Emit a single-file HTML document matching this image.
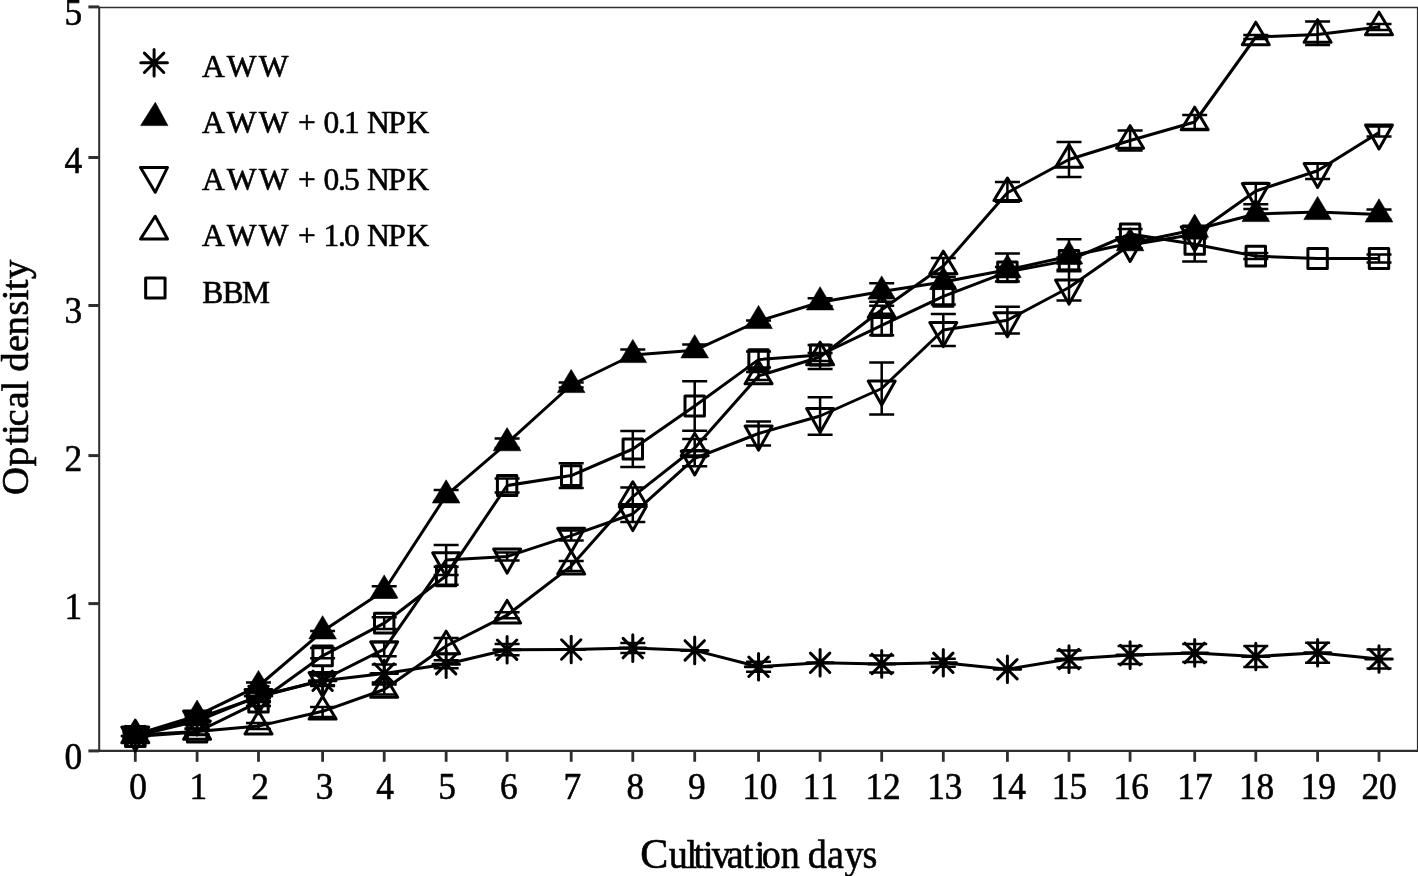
<!DOCTYPE html>
<html><head><meta charset="utf-8"><title>Optical density vs cultivation days</title>
<style>
html,body{margin:0;padding:0;background:#fff;}
body{width:1418px;height:876px;overflow:hidden;}
svg{display:block;font-family:"Liberation Serif",serif;filter:grayscale(1);}
.ax{stroke:#2e2e2e;fill:none;}
.l{stroke:#000;stroke-width:3;fill:none;stroke-linejoin:round;}
.e{stroke:#000;stroke-width:2.5;fill:none;}
.a{stroke:#000;stroke-width:3;fill:none;stroke-linecap:round;}
.o{stroke:#000;stroke-width:3;fill:none;stroke-linejoin:round;}
.f{stroke:#000;stroke-width:0.6;fill:#000;stroke-linejoin:miter;}
text{fill:#000;stroke:#000;stroke-width:0.6px;stroke-linejoin:round;font-kerning:none;}
.t{font-size:38px;stroke-width:0.5px;}
.lg{font-size:31.5px;}
</style></head><body>
<svg width="1418" height="876" viewBox="0 0 1418 876">
<rect width="1418" height="876" fill="#fff"/>

<g class="ax">
<path d="M99.2 6.5V751.9" stroke-width="2"/>
<path d="M98 750.9H1418" stroke-width="2.2"/>
<path d="M98 7.5H1418" stroke-width="1.5"/>
<path d="M1417.9 7V752" stroke-width="2"/>
<path d="M88.4 750.9H99" stroke-width="3"/>
<path d="M88.4 603.6H99" stroke-width="3"/>
<path d="M88.4 455.6H99" stroke-width="3"/>
<path d="M88.4 305.5H99" stroke-width="3"/>
<path d="M88.4 157.5H99" stroke-width="3"/>
<path d="M88.4 6.9H99" stroke-width="3"/>
<path d="M135.3 750.9V761.8" stroke-width="2.8"/>
<path d="M197.1 750.9V761.8" stroke-width="2.8"/>
<path d="M258.5 750.9V761.8" stroke-width="2.8"/>
<path d="M322.6 750.9V761.8" stroke-width="2.8"/>
<path d="M384.2 750.9V761.8" stroke-width="2.8"/>
<path d="M446.15 750.9V761.8" stroke-width="2.8"/>
<path d="M507.1 750.9V761.8" stroke-width="2.8"/>
<path d="M571.2 750.9V761.8" stroke-width="2.8"/>
<path d="M632.8 750.9V761.8" stroke-width="2.8"/>
<path d="M694.7 750.9V761.8" stroke-width="2.8"/>
<path d="M758.55 750.9V761.8" stroke-width="2.8"/>
<path d="M820.1 750.9V761.8" stroke-width="2.8"/>
<path d="M881.7 750.9V761.8" stroke-width="2.8"/>
<path d="M943.3 750.9V761.8" stroke-width="2.8"/>
<path d="M1007.4 750.9V761.8" stroke-width="2.8"/>
<path d="M1069 750.9V761.8" stroke-width="2.8"/>
<path d="M1130.1 750.9V761.8" stroke-width="2.8"/>
<path d="M1194.7 750.9V761.8" stroke-width="2.8"/>
<path d="M1255.8 750.9V761.8" stroke-width="2.8"/>
<path d="M1317.6 750.9V761.8" stroke-width="2.8"/>
<path d="M1379 750.9V761.8" stroke-width="2.8"/>
</g>
<g class="t" text-anchor="middle">
<text transform="translate(138.1 798.5) scale(0.93 1)">0</text>
<text transform="translate(198.4 798.5) scale(0.93 1)">1</text>
<text transform="translate(260.1 798.5) scale(0.93 1)">2</text>
<text transform="translate(324.5 798.5) scale(0.93 1)">3</text>
<text transform="translate(385 798.5) scale(0.93 1)">4</text>
<text transform="translate(447.05 798.5) scale(0.93 1)">5</text>
<text transform="translate(508.8 798.5) scale(0.93 1)">6</text>
<text transform="translate(572.3 798.5) scale(0.93 1)">7</text>
<text transform="translate(635.3 798.5) scale(0.93 1)">8</text>
<text transform="translate(696.8 798.5) scale(0.93 1)">9</text>
<text transform="translate(759.85 798.5) scale(0.93 1)">10</text>
<text transform="translate(820.4 798.5) scale(0.93 1)">11</text>
<text transform="translate(883.1 798.5) scale(0.93 1)">12</text>
<text transform="translate(944.8 798.5) scale(0.93 1)">13</text>
<text transform="translate(1008.2 798.5) scale(0.93 1)">14</text>
<text transform="translate(1069.4 798.5) scale(0.93 1)">15</text>
<text transform="translate(1131.2 798.5) scale(0.93 1)">16</text>
<text transform="translate(1194.9 798.5) scale(0.93 1)">17</text>
<text transform="translate(1256.6 798.5) scale(0.93 1)">18</text>
<text transform="translate(1318.3 798.5) scale(0.93 1)">19</text>
<text transform="translate(1379.1 798.5) scale(0.93 1)">20</text>
</g>
<g class="t" text-anchor="end">
<text transform="translate(82.2 769.1) scale(0.93 1)">0</text>
<text transform="translate(82.2 618.9) scale(0.93 1)">1</text>
<text transform="translate(82.2 470.7) scale(0.93 1)">2</text>
<text transform="translate(82.2 322.9) scale(0.93 1)">3</text>
<text transform="translate(82.2 172.6) scale(0.93 1)">4</text>
<text transform="translate(82.2 24.8) scale(0.93 1)">5</text>
</g>
<text transform="translate(641.5 867.9) scale(1.0 1)" font-size="42" stroke-width="0.9" x="-1.27">C</text>
<text transform="translate(668.7 867.7) scale(0.93 1)" font-size="41" stroke-width="0.9" x="-0.06 19.23 26.54 36.93 46.18 62.48 79.76 92.42 100.11 120.51 149.54 170.12 188.91 208.48">ultivationdays</text>
<text transform="translate(28.2 493.9) rotate(-90) scale(1.0 1)" font-size="38.7" stroke-width="0.8" x="-1.19 27.68 48.82 58.99 67.53 85.34 102.33 122.1 141.79 158.51 178.51 193.69 203.72 214.83">Opticaldensity</text>
<path d="M154.1 49.5V76.1M140.8 62.8H167.4M144.4 53.1L163.8 72.5M144.4 72.5L163.8 53.1" class="a"/>
<path d="M140.6 125.6L167.9 125.6L155.3 102.3Z" class="f"/>
<path d="M140.5 167.4L167.5 167.4L155.2 192.3Z" class="o"/>
<path d="M140.5 239.05L167.5 239.05L155.2 216.3Z" class="o"/>
<rect x="145.65" y="278" width="19.4" height="20" class="o"/>
<text class="lg" y="76.8" x="202 226.85 258.7">AWW</text>
<text class="lg" y="133.3" x="202 226.85 258.7 297.9 323.5 338 344 367 388.3 406.5">AWW+0.1NPK</text>
<text class="lg" y="189.8" x="202 226.85 258.7 297.9 323.5 338 344 367 388.3 406.5">AWW+0.5NPK</text>
<text class="lg" y="246.3" x="202 226.85 258.7 297.9 323.5 338 344 367 388.3 406.5">AWW+1.0NPK</text>
<text class="lg" y="302.8" x="202.3 222.6 242">BBM</text>
<g>
<polyline class="l" points="135.3,736 197.1,721 258.5,696 322.6,680.8 384.2,673.5 446.15,664.2 507.1,649.7 571.2,649.5 632.8,648.1 694.7,650.4 758.55,666.8 820.1,662.8 881.7,663.9 943.3,662.8 1007.4,669.2 1069,659.1 1130.1,655.1 1194.7,652.9 1255.8,656.5 1317.6,652.7 1379,659"/>
<path class="e" d="M135.3 733V739M122.8 733H147.8M122.8 739H147.8M197.1 717V725M184.6 717H209.6M184.6 725H209.6M258.5 691V701M246 691H271M246 701H271M322.6 675.5V686.1M310.1 675.5H335.1M310.1 686.1H335.1M384.2 664.5V682.5M371.7 664.5H396.7M371.7 682.5H396.7M446.15 660.2V668.2M433.65 660.2H458.65M433.65 668.2H458.65M507.1 644.1V655.3M494.6 644.1H519.6M494.6 655.3H519.6M632.8 643.1V653.1M620.3 643.1H645.3M620.3 653.1H645.3M758.55 661.8V671.8M746.05 661.8H771.05M746.05 671.8H771.05M881.7 655.4V672.4M869.2 655.4H894.2M869.2 672.4H894.2M943.3 658.8V666.8M930.8 658.8H955.8M930.8 666.8H955.8M1069 650.6V667.6M1056.5 650.6H1081.5M1056.5 667.6H1081.5M1130.1 646.1V664.1M1117.6 646.1H1142.6M1117.6 664.1H1142.6M1194.7 643.9V661.9M1182.2 643.9H1207.2M1182.2 661.9H1207.2M1255.8 646V667M1243.3 646H1268.3M1243.3 667H1268.3M1317.6 642.7V662.7M1305.1 642.7H1330.1M1305.1 662.7H1330.1M1379 649.4V668.6M1366.5 649.4H1391.5M1366.5 668.6H1391.5"/>
<path d="M135.3 722.7V749.3M122 736H148.6M125.6 726.3L145 745.7M125.6 745.7L145 726.3" class="a"/>
<path d="M197.1 707.7V734.3M183.8 721H210.4M187.4 711.3L206.8 730.7M187.4 730.7L206.8 711.3" class="a"/>
<path d="M258.5 682.7V709.3M245.2 696H271.8M248.8 686.3L268.2 705.7M248.8 705.7L268.2 686.3" class="a"/>
<path d="M322.6 667.5V694.1M309.3 680.8H335.9M312.9 671.1L332.3 690.5M312.9 690.5L332.3 671.1" class="a"/>
<path d="M384.2 660.2V686.8M370.9 673.5H397.5M374.5 663.8L393.9 683.2M374.5 683.2L393.9 663.8" class="a"/>
<path d="M446.15 650.9V677.5M432.85 664.2H459.45M436.45 654.5L455.85 673.9M436.45 673.9L455.85 654.5" class="a"/>
<path d="M507.1 636.4V663M493.8 649.7H520.4M497.4 640L516.8 659.4M497.4 659.4L516.8 640" class="a"/>
<path d="M571.2 636.2V662.8M557.9 649.5H584.5M561.5 639.8L580.9 659.2M561.5 659.2L580.9 639.8" class="a"/>
<path d="M632.8 634.8V661.4M619.5 648.1H646.1M623.1 638.4L642.5 657.8M623.1 657.8L642.5 638.4" class="a"/>
<path d="M694.7 637.1V663.7M681.4 650.4H708M685 640.7L704.4 660.1M685 660.1L704.4 640.7" class="a"/>
<path d="M758.55 653.5V680.1M745.25 666.8H771.85M748.85 657.1L768.25 676.5M748.85 676.5L768.25 657.1" class="a"/>
<path d="M820.1 649.5V676.1M806.8 662.8H833.4M810.4 653.1L829.8 672.5M810.4 672.5L829.8 653.1" class="a"/>
<path d="M881.7 650.6V677.2M868.4 663.9H895M872 654.2L891.4 673.6M872 673.6L891.4 654.2" class="a"/>
<path d="M943.3 649.5V676.1M930 662.8H956.6M933.6 653.1L953 672.5M933.6 672.5L953 653.1" class="a"/>
<path d="M1007.4 655.9V682.5M994.1 669.2H1020.7M997.7 659.5L1017.1 678.9M997.7 678.9L1017.1 659.5" class="a"/>
<path d="M1069 645.8V672.4M1055.7 659.1H1082.3M1059.3 649.4L1078.7 668.8M1059.3 668.8L1078.7 649.4" class="a"/>
<path d="M1130.1 641.8V668.4M1116.8 655.1H1143.4M1120.4 645.4L1139.8 664.8M1120.4 664.8L1139.8 645.4" class="a"/>
<path d="M1194.7 639.6V666.2M1181.4 652.9H1208M1185 643.2L1204.4 662.6M1185 662.6L1204.4 643.2" class="a"/>
<path d="M1255.8 643.2V669.8M1242.5 656.5H1269.1M1246.1 646.8L1265.5 666.2M1246.1 666.2L1265.5 646.8" class="a"/>
<path d="M1317.6 639.4V666M1304.3 652.7H1330.9M1307.9 643L1327.3 662.4M1307.9 662.4L1327.3 643" class="a"/>
<path d="M1379 645.7V672.3M1365.7 659H1392.3M1369.3 649.3L1388.7 668.7M1369.3 668.7L1388.7 649.3" class="a"/>
</g>
<g>
<polyline class="l" points="135.3,734.8 197.1,715.7 258.5,686 322.6,631.3 384.2,590.5 446.15,495.4 507.1,443.2 571.2,385 632.8,355 694.7,350.3 758.55,321 820.1,302.3 881.7,291.5 943.3,282 1007.4,269.8 1069,256.3 1130.1,243.2 1194.7,229.7 1255.8,214 1317.6,212 1379,214.4"/>
<path class="e" d="M135.3 731.8V737.8M122.8 731.8H147.8M122.8 737.8H147.8M197.1 711.7V719.7M184.6 711.7H209.6M184.6 719.7H209.6M258.5 682.5V689.5M246 682.5H271M246 689.5H271M322.6 630.9V637.1M310.1 630.9H335.1M310.1 637.1H335.1M384.2 586.3V597.5M371.7 586.3H396.7M371.7 597.5H396.7M446.15 489.9V500.9M433.65 489.9H458.65M433.65 500.9H458.65M507.1 438.5V447.9M494.6 438.5H519.6M494.6 447.9H519.6M571.2 382.5V387.5M558.7 382.5H583.7M558.7 387.5H583.7M632.8 349.5V360.5M620.3 349.5H645.3M620.3 360.5H645.3M694.7 344.5V356.1M682.2 344.5H707.2M682.2 356.1H707.2M758.55 320.5V326M746.05 320.5H771.05M746.05 326H771.05M820.1 298.3V306.3M807.6 298.3H832.6M807.6 306.3H832.6M881.7 283.2V301.7M869.2 283.2H894.2M869.2 301.7H894.2M943.3 277V287M930.8 277H955.8M930.8 287H955.8M1007.4 253.5V281.5M994.9 253.5H1019.9M994.9 281.5H1019.9M1069 239.3V269.8M1056.5 239.3H1081.5M1056.5 269.8H1081.5M1130.1 238.2V248.2M1117.6 238.2H1142.6M1117.6 248.2H1142.6M1194.7 225.7V233.7M1182.2 225.7H1207.2M1182.2 233.7H1207.2M1255.8 209V219M1243.3 209H1268.3M1243.3 219H1268.3M1379 209.4V219.4M1366.5 209.4H1391.5M1366.5 219.4H1391.5"/>
<path d="M135.3 719.2L149.1 742.4L121.5 742.4Z" class="f"/>
<path d="M197.1 700.1L210.9 723.3L183.3 723.3Z" class="f"/>
<path d="M258.5 670.4L272.3 693.6L244.7 693.6Z" class="f"/>
<path d="M322.6 615.7L336.4 638.9L308.8 638.9Z" class="f"/>
<path d="M384.2 574.9L398 598.1L370.4 598.1Z" class="f"/>
<path d="M446.15 479.8L459.95 503L432.35 503Z" class="f"/>
<path d="M507.1 427.6L520.9 450.8L493.3 450.8Z" class="f"/>
<path d="M571.2 369.4L585 392.6L557.4 392.6Z" class="f"/>
<path d="M632.8 339.4L646.6 362.6L619 362.6Z" class="f"/>
<path d="M694.7 334.7L708.5 357.9L680.9 357.9Z" class="f"/>
<path d="M758.55 305.4L772.35 328.6L744.75 328.6Z" class="f"/>
<path d="M820.1 286.7L833.9 309.9L806.3 309.9Z" class="f"/>
<path d="M881.7 275.9L895.5 299.1L867.9 299.1Z" class="f"/>
<path d="M943.3 266.4L957.1 289.6L929.5 289.6Z" class="f"/>
<path d="M1007.4 254.2L1021.2 277.4L993.6 277.4Z" class="f"/>
<path d="M1069 240.7L1082.8 263.9L1055.2 263.9Z" class="f"/>
<path d="M1130.1 227.6L1143.9 250.8L1116.3 250.8Z" class="f"/>
<path d="M1194.7 214.1L1208.5 237.3L1180.9 237.3Z" class="f"/>
<path d="M1255.8 198.4L1269.6 221.6L1242 221.6Z" class="f"/>
<path d="M1317.6 196.4L1331.4 219.6L1303.8 219.6Z" class="f"/>
<path d="M1379 198.8L1392.8 222L1365.2 222Z" class="f"/>
</g>
<g>
<polyline class="l" points="135.3,734.5 197.1,718.3 258.5,697 322.6,680 384.2,649.2 446.15,560.1 507.1,556.5 571.2,535.6 632.8,514 694.7,458.3 758.55,433.5 820.1,416 881.7,388.5 943.3,330 1007.4,320.2 1069,287.5 1130.1,244.9 1194.7,234.2 1255.8,191 1317.6,170.8 1379,132.4"/>
<path class="e" d="M135.3 731.5V737.5M122.8 731.5H147.8M122.8 737.5H147.8M197.1 714.3V722.3M184.6 714.3H209.6M184.6 722.3H209.6M258.5 692V702M246 692H271M246 702H271M322.6 674.7V685.3M310.1 674.7H335.1M310.1 685.3H335.1M384.2 642.2V656.2M371.7 642.2H396.7M371.7 656.2H396.7M446.15 545.1V575.1M433.65 545.1H458.65M433.65 575.1H458.65M507.1 552.5V560.5M494.6 552.5H519.6M494.6 560.5H519.6M571.2 530.6V540.6M558.7 530.6H583.7M558.7 540.6H583.7M632.8 506V522M620.3 506H645.3M620.3 522H645.3M694.7 450.3V466.3M682.2 450.3H707.2M682.2 466.3H707.2M758.55 421.5V445.5M746.05 421.5H771.05M746.05 445.5H771.05M820.1 397.3V434.7M807.6 397.3H832.6M807.6 434.7H832.6M881.7 362.5V414.5M869.2 362.5H894.2M869.2 414.5H894.2M943.3 314V346M930.8 314H955.8M930.8 346H955.8M1007.4 306.8V333.6M994.9 306.8H1019.9M994.9 333.6H1019.9M1069 271.2V300.5M1056.5 271.2H1081.5M1056.5 300.5H1081.5M1130.1 240.9V248.9M1117.6 240.9H1142.6M1117.6 248.9H1142.6M1194.7 230.2V238.2M1182.2 230.2H1207.2M1182.2 238.2H1207.2M1255.8 183V204.2M1243.3 183H1268.3M1243.3 204.2H1268.3M1317.6 163.8V179M1305.1 163.8H1330.1M1305.1 179H1330.1M1379 126.4V136.4M1366.5 126.4H1391.5M1366.5 136.4H1391.5"/>
<path d="M135.3 751.1L148.8 727.1L121.8 727.1Z" class="o"/>
<path d="M197.1 734.9L210.6 710.9L183.6 710.9Z" class="o"/>
<path d="M258.5 713.6L272 689.6L245 689.6Z" class="o"/>
<path d="M322.6 696.6L336.1 672.6L309.1 672.6Z" class="o"/>
<path d="M384.2 665.8L397.7 641.8L370.7 641.8Z" class="o"/>
<path d="M446.15 576.7L459.65 552.7L432.65 552.7Z" class="o"/>
<path d="M507.1 573.1L520.6 549.1L493.6 549.1Z" class="o"/>
<path d="M571.2 552.2L584.7 528.2L557.7 528.2Z" class="o"/>
<path d="M632.8 530.6L646.3 506.6L619.3 506.6Z" class="o"/>
<path d="M694.7 474.9L708.2 450.9L681.2 450.9Z" class="o"/>
<path d="M758.55 450.1L772.05 426.1L745.05 426.1Z" class="o"/>
<path d="M820.1 432.6L833.6 408.6L806.6 408.6Z" class="o"/>
<path d="M881.7 405.1L895.2 381.1L868.2 381.1Z" class="o"/>
<path d="M943.3 346.6L956.8 322.6L929.8 322.6Z" class="o"/>
<path d="M1007.4 336.8L1020.9 312.8L993.9 312.8Z" class="o"/>
<path d="M1069 304.1L1082.5 280.1L1055.5 280.1Z" class="o"/>
<path d="M1130.1 261.5L1143.6 237.5L1116.6 237.5Z" class="o"/>
<path d="M1194.7 250.8L1208.2 226.8L1181.2 226.8Z" class="o"/>
<path d="M1255.8 207.6L1269.3 183.6L1242.3 183.6Z" class="o"/>
<path d="M1317.6 187.4L1331.1 163.4L1304.1 163.4Z" class="o"/>
<path d="M1379 149L1392.5 125L1365.5 125Z" class="o"/>
</g>
<g>
<polyline class="l" points="135.3,735 197.1,731.5 258.5,726.1 322.6,711.3 384.2,689.5 446.15,646 507.1,615.2 571.2,566.1 632.8,496.6 694.7,448 758.55,375.9 820.1,357 881.7,309.8 943.3,266 1007.4,192.8 1069,159.5 1130.1,140.5 1194.7,122 1255.8,37 1317.6,34.5 1379,27"/>
<path class="e" d="M135.3 732V738M122.8 732H147.8M122.8 738H147.8M197.1 728.5V734.5M184.6 728.5H209.6M184.6 734.5H209.6M258.5 723.1V729.1M246 723.1H271M246 729.1H271M322.6 707V717M310.1 707H335.1M310.1 717H335.1M384.2 684.5V694.5M371.7 684.5H396.7M371.7 694.5H396.7M446.15 638V654M433.65 638H458.65M433.65 654H458.65M507.1 612.2V618.2M494.6 612.2H519.6M494.6 618.2H519.6M571.2 561.1V571.1M558.7 561.1H583.7M558.7 571.1H583.7M632.8 487.6V505.6M620.3 487.6H645.3M620.3 505.6H645.3M694.7 439V457M682.2 439H707.2M682.2 457H707.2M758.55 371.9V379.9M746.05 371.9H771.05M746.05 379.9H771.05M820.1 353V361M807.6 353H832.6M807.6 361H832.6M881.7 305.8V313.8M869.2 305.8H894.2M869.2 313.8H894.2M943.3 258V274M930.8 258H955.8M930.8 274H955.8M1007.4 181.9V201.8M994.9 181.9H1019.9M994.9 201.8H1019.9M1069 142V177M1056.5 142H1081.5M1056.5 177H1081.5M1130.1 130.5V150.5M1117.6 130.5H1142.6M1117.6 150.5H1142.6M1194.7 115V129M1182.2 115H1207.2M1182.2 129H1207.2M1255.8 35V39M1243.3 35H1268.3M1243.3 39H1268.3M1317.6 21.5V45M1305.1 21.5H1330.1M1305.1 45H1330.1M1379 24V30M1366.5 24H1391.5M1366.5 30H1391.5"/>
<path d="M135.3 720.2L148.8 742.8L121.8 742.8Z" class="o"/>
<path d="M197.1 716.7L210.6 739.3L183.6 739.3Z" class="o"/>
<path d="M258.5 711.3L272 733.9L245 733.9Z" class="o"/>
<path d="M322.6 696.5L336.1 719.1L309.1 719.1Z" class="o"/>
<path d="M384.2 674.7L397.7 697.3L370.7 697.3Z" class="o"/>
<path d="M446.15 631.2L459.65 653.8L432.65 653.8Z" class="o"/>
<path d="M507.1 600.4L520.6 623L493.6 623Z" class="o"/>
<path d="M571.2 551.3L584.7 573.9L557.7 573.9Z" class="o"/>
<path d="M632.8 481.8L646.3 504.4L619.3 504.4Z" class="o"/>
<path d="M694.7 433.2L708.2 455.8L681.2 455.8Z" class="o"/>
<path d="M758.55 361.1L772.05 383.7L745.05 383.7Z" class="o"/>
<path d="M820.1 342.2L833.6 364.8L806.6 364.8Z" class="o"/>
<path d="M881.7 295L895.2 317.6L868.2 317.6Z" class="o"/>
<path d="M943.3 251.2L956.8 273.8L929.8 273.8Z" class="o"/>
<path d="M1007.4 178L1020.9 200.6L993.9 200.6Z" class="o"/>
<path d="M1069 144.7L1082.5 167.3L1055.5 167.3Z" class="o"/>
<path d="M1130.1 125.7L1143.6 148.3L1116.6 148.3Z" class="o"/>
<path d="M1194.7 107.2L1208.2 129.8L1181.2 129.8Z" class="o"/>
<path d="M1255.8 22.2L1269.3 44.8L1242.3 44.8Z" class="o"/>
<path d="M1317.6 19.7L1331.1 42.3L1304.1 42.3Z" class="o"/>
<path d="M1379 12.2L1392.5 34.8L1365.5 34.8Z" class="o"/>
</g>
<g>
<polyline class="l" points="135.3,736.5 197.1,732 258.5,702 322.6,655.8 384.2,623.2 446.15,575.8 507.1,485.5 571.2,475.6 632.8,449 694.7,406 758.55,359.6 820.1,355 881.7,325.3 943.3,296.4 1007.4,271.9 1069,260.4 1130.1,234 1194.7,244.3 1255.8,256.1 1317.6,258.5 1379,258.5"/>
<path class="e" d="M135.3 733.5V739.5M122.8 733.5H147.8M122.8 739.5H147.8M197.1 729V735M184.6 729H209.6M184.6 735H209.6M258.5 698V706M246 698H271M246 706H271M322.6 648V658.3M310.1 648H335.1M310.1 658.3H335.1M384.2 617.3V629.1M371.7 617.3H396.7M371.7 629.1H396.7M446.15 566.8V584.8M433.65 566.8H458.65M433.65 584.8H458.65M507.1 478.5V492.5M494.6 478.5H519.6M494.6 492.5H519.6M571.2 463.3V487.9M558.7 463.3H583.7M558.7 487.9H583.7M632.8 431V467M620.3 431H645.3M620.3 467H645.3M694.7 381.3V430.7M682.2 381.3H707.2M682.2 430.7H707.2M758.55 351.6V367.6M746.05 351.6H771.05M746.05 367.6H771.05M820.1 345V369M807.6 345H832.6M807.6 369H832.6M881.7 315.3V335.3M869.2 315.3H894.2M869.2 335.3H894.2M943.3 288.4V304.4M930.8 288.4H955.8M930.8 304.4H955.8M1007.4 266.9V276.9M994.9 266.9H1019.9M994.9 276.9H1019.9M1069 257.4V263.4M1056.5 257.4H1081.5M1056.5 263.4H1081.5M1130.1 229V239M1117.6 229H1142.6M1117.6 239H1142.6M1194.7 226.4V261.5M1182.2 226.4H1207.2M1182.2 261.5H1207.2M1255.8 253.1V259.1M1243.3 253.1H1268.3M1243.3 259.1H1268.3M1379 254.5V262.5M1366.5 254.5H1391.5M1366.5 262.5H1391.5"/>
<rect x="125.6" y="726.6" width="19.4" height="19.8" class="o"/>
<rect x="187.4" y="722.1" width="19.4" height="19.8" class="o"/>
<rect x="248.8" y="692.1" width="19.4" height="19.8" class="o"/>
<rect x="312.9" y="645.9" width="19.4" height="19.8" class="o"/>
<rect x="374.5" y="613.3" width="19.4" height="19.8" class="o"/>
<rect x="436.45" y="565.9" width="19.4" height="19.8" class="o"/>
<rect x="497.4" y="475.6" width="19.4" height="19.8" class="o"/>
<rect x="561.5" y="465.7" width="19.4" height="19.8" class="o"/>
<rect x="623.1" y="439.1" width="19.4" height="19.8" class="o"/>
<rect x="685" y="396.1" width="19.4" height="19.8" class="o"/>
<rect x="748.85" y="349.7" width="19.4" height="19.8" class="o"/>
<rect x="810.4" y="345.1" width="19.4" height="19.8" class="o"/>
<rect x="872" y="315.4" width="19.4" height="19.8" class="o"/>
<rect x="933.6" y="286.5" width="19.4" height="19.8" class="o"/>
<rect x="997.7" y="262" width="19.4" height="19.8" class="o"/>
<rect x="1059.3" y="250.5" width="19.4" height="19.8" class="o"/>
<rect x="1120.4" y="224.1" width="19.4" height="19.8" class="o"/>
<rect x="1185" y="234.4" width="19.4" height="19.8" class="o"/>
<rect x="1246.1" y="246.2" width="19.4" height="19.8" class="o"/>
<rect x="1307.9" y="248.6" width="19.4" height="19.8" class="o"/>
<rect x="1369.3" y="248.6" width="19.4" height="19.8" class="o"/>
</g>
</svg>
</body></html>
